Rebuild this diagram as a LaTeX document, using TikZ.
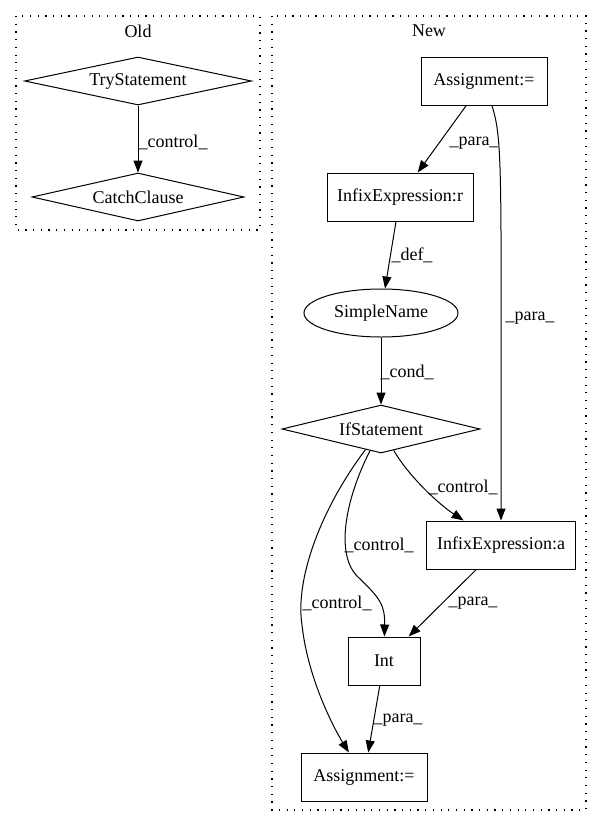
\documentclass[tikz,border=0pt]{standalone}
\usepackage{fontspec}
\setmainfont{Liberation Serif}
\usetikzlibrary{shapes.geometric,arrows.meta}
\begin{document}
\begin{tikzpicture}[x=1pt,y=-1pt,
    every node/.style={font=\fontsize{18}{21}\selectfont},
    box/.style={draw,line width=1pt,rectangle,inner sep=0pt,minimum height=48pt},
    decision/.style={draw,line width=1pt,diamond,inner sep=0pt,minimum height=48pt},
    oval/.style={draw,line width=1pt,ellipse,inner sep=0pt,minimum width=154pt,minimum height=48pt},
    flow/.style={line width=1pt,-{Triangle[length=12pt,width=9pt]}},
    cluster/.style={line width=1.2pt,dash pattern=on 1.2pt off 6.5pt},
    lbl/.style={inner sep=0pt}]
    \useasboundingbox (0,0) rectangle (603,828);
    %% clusters
    \draw[cluster] (16,16) rectangle (260,230);
    \draw[cluster] (272,16) rectangle (586,810);
    \node[lbl] (oldtitle) at (138,31) {Old};
    \node[lbl] (newtitle) at (429,31) {New};
    %% old graph
    \node[decision,minimum width=227pt,aspect=4.73] (trystmt) at (138,81) {TryStatement};
    \node[decision,minimum width=212pt,aspect=4.42] (catchcl) at (138,197) {CatchClause};
    \draw[flow] (trystmt) -- (catchcl);
    \node[lbl] (ctrlold) at (173,142) {\_control\_};
    %% new graph
    \node[box,minimum width=126pt] (assigntop) at (484,81) {Assignment:=};
    \node[box,minimum width=146pt] (infixr) at (400,197) {InfixExpression:r};
    \node[oval] (simplename) at (381,313) {SimpleName};
    \node[decision,minimum width=198pt,aspect=4.13] (ifstmt) at (381,429) {IfStatement};
    \node[box,minimum width=149pt] (infixa) at (501,545) {InfixExpression:a};
    \node[box,minimum width=72pt] (intnode) at (384,661) {Int};
    \node[box,minimum width=126pt] (assignbot) at (364,777) {Assignment:=};
    %% edges
    \draw[flow] (assigntop) -- (infixr);
    \draw[flow] (assigntop) .. controls (503,140) and (501,170) .. (infixa);
    \draw[flow] (infixr) -- (simplename);
    \draw[flow] (simplename) -- (ifstmt);
    \draw[flow] (ifstmt) .. controls (410,478) and (440,505) .. (infixa);
    \draw[flow] (ifstmt) .. controls (345,500) and (335,555) .. (358,577)
        .. controls (380,598) and (385,605) .. (intnode);
    \draw[flow] (ifstmt) .. controls (320,510) and (295,580) .. (302,625)
        .. controls (308,680) and (335,730) .. (assignbot);
    \draw[flow] (infixa) -- (intnode);
    \draw[flow] (intnode) -- (assignbot);
    %% edge labels
    \node[lbl] (paraone) at (474,143) {\_para\_};
    \node[lbl] (paratwo) at (530,318) {\_para\_};
    \node[lbl] (deflbl) at (412,255) {\_def\_};
    \node[lbl] (condlbl) at (407,372) {\_cond\_};
    \node[lbl] (ctrlone) at (463,487) {\_control\_};
    \node[lbl] (ctrltwo) at (379,545) {\_control\_};
    \node[lbl] (ctrlthree) at (337,603) {\_control\_};
    \node[lbl] (parathree) at (473,603) {\_para\_};
    \node[lbl] (parafour) at (398,720) {\_para\_};
\end{tikzpicture}
\end{document}
